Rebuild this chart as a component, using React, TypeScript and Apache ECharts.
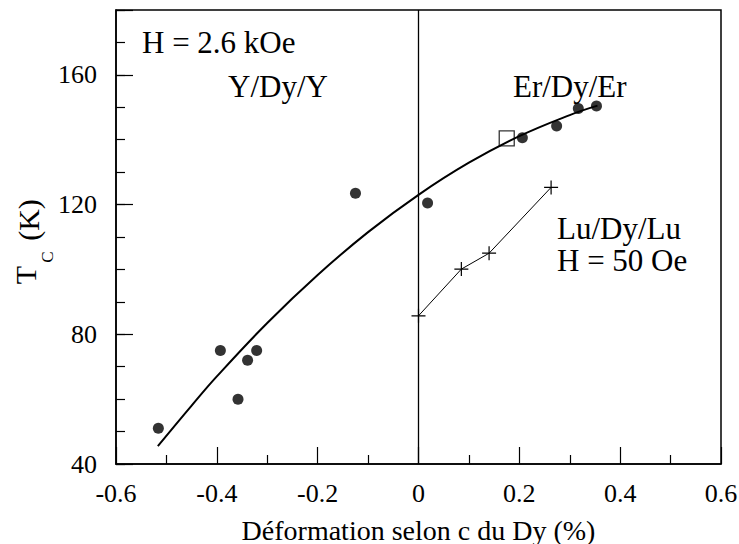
import { useEffect, useRef } from "react";
import * as echarts from "echarts";

// Filled circles: Y/Dy/Y and Er/Dy/Er samples (H = 2.6 kOe)
const dyPoints: [number, number][] = [
  [-0.516, 51], [-0.393, 75], [-0.358, 60], [-0.339, 72], [-0.321, 75],
  [-0.125, 123.5], [0.018, 120.5], [0.206, 140.6], [0.274, 144.2],
  [0.317, 149.6], [0.353, 150.4],
];
// Open square
const squarePoints: [number, number][] = [[0.175, 140.4]];
// Lu/Dy/Lu crosses (H = 50 Oe)
const luPoints: [number, number][] = [[0, 85.7], [0.085, 100.1], [0.14, 105], [0.263, 125.3]];
// Guide curve
const fitCurve: [number, number][] = [
  [-0.517, 45.5], [-0.45, 58], [-0.4, 67], [-0.3, 83.5], [-0.2, 98.3],
  [-0.1, 111.5], [0, 123], [0.1, 132.9], [0.2, 141.1], [0.3, 147.6], [0.355, 150.5],
];
const yLabelValues = [40, 80, 120, 160];

const FONT = "'Liberation Serif', 'Times New Roman', Times, serif";

export default function App() {
  const ref = useRef<HTMLDivElement>(null);
  useEffect(() => {
    if (!ref.current) return;
    const chart = echarts.init(ref.current, null, { renderer: "svg" });
    const txt = (text: string, x: number, y: number, size = 31, extra: any = {}) => ({
      type: "text",
      x,
      y,
      ...extra,
      style: {
        text,
        fontSize: size,
        fontFamily: FONT,
        fill: "#000",
        textAlign: "left",
        textVerticalAlign: "middle",
        ...(extra.style || {}),
      },
    });
    chart.setOption({
      animation: false,
      backgroundColor: "#fff",
      textStyle: { fontFamily: FONT, color: "#000" },
      grid: {
        left: 116,
        right: 18,
        top: 10,
        bottom: 80,
        outerBoundsMode: "none",
        containLabel: false,
        show: true,
        borderColor: "#000",
        borderWidth: 1.5,
      },
      xAxis: {
        type: "value",
        min: -0.6,
        max: 0.6,
        interval: 0.2,
        name: "Déformation selon c du Dy (%)",
        nameLocation: "middle",
        nameGap: 52,
        nameTextStyle: { fontSize: 28, color: "#000", fontFamily: FONT },
        axisLine: { onZero: false, lineStyle: { color: "#000", width: 1.5 } },
        axisTick: { inside: true, length: 17, lineStyle: { color: "#000", width: 1.2 } },
        minorTick: { show: true, splitNumber: 2, length: 9, lineStyle: { color: "#000", width: 1.2 } },
        splitLine: { show: false },
        axisLabel: {
          fontSize: 26,
          fontFamily: FONT,
          color: "#000",
          margin: 16,
          formatter: (v: number) => (Math.abs(v) < 1e-9 ? "0" : v.toFixed(1)),
        },
      },
      yAxis: [
        {
          type: "value",
          min: 40,
          max: 180,
          interval: 10,
          axisLine: { onZero: false, lineStyle: { color: "#000", width: 1.5 } },
          axisTick: { inside: true, length: 9, lineStyle: { color: "#000", width: 1.2 } },
          splitLine: { show: false },
          axisLabel: {
            fontSize: 26,
            fontFamily: FONT,
            color: "#000",
            margin: 19,
            formatter: (v: number) =>
              yLabelValues.some((l) => Math.abs(l - v) < 1e-9) ? String(Math.round(v)) : "",
          },
        },
        {
          type: "value",
          position: "left",
          min: 40,
          max: 180,
          interval: 40,
          axisLine: { show: false, onZero: false },
          axisTick: { inside: true, length: 17, lineStyle: { color: "#000", width: 1.2 } },
          axisLabel: { show: false },
          splitLine: { show: false },
        },
      ],
      series: [
        {
          type: "line",
          data: fitCurve,
          smooth: 0.4,
          symbol: "none",
          lineStyle: { color: "#000", width: 2 },
          markLine: {
            silent: true,
            symbol: ["none", "none"],
            label: { show: false },
            lineStyle: { color: "#000", width: 1.3, type: "solid" },
            data: [{ xAxis: 0 }],
          },
        },
        {
          type: "line",
          data: luPoints,
          symbol: "path://M0,7H14M7,0V14",
          symbolSize: 14,
          lineStyle: { color: "#000", width: 1 },
          itemStyle: { color: "#000", borderColor: "#000", borderWidth: 1.2 },
        },
        {
          type: "scatter",
          data: dyPoints,
          symbol: "circle",
          symbolSize: 11,
          itemStyle: { color: "#000" },
        },
        {
          type: "scatter",
          data: squarePoints,
          symbol: "rect",
          symbolSize: 15,
          itemStyle: { color: "#fff", borderColor: "#000", borderWidth: 1.3 },
        },
      ],
      graphic: [
        txt("H = 2.6 kOe", 142, 42),
        txt("Y/Dy/Y", 228, 86),
        txt("Er/Dy/Er", 513, 86),
        txt("Lu/Dy/Lu", 557, 228),
        txt("H = 50 Oe", 557, 260),
        txt("T", 25, 275, 30, { rotation: Math.PI / 2, style: { textAlign: "center" } }),
        txt("C", 47, 257, 17, { rotation: Math.PI / 2, style: { textAlign: "center" } }),
        txt("(K)", 28, 220, 30, { rotation: Math.PI / 2, style: { textAlign: "center" } }),
      ],
    });
    return () => chart.dispose();
  }, []);
  return (
    <div
      ref={ref}
      style={{ position: "fixed", left: 0, top: 0, width: 739, height: 544, background: "#fff" }}
    />
  );
}
